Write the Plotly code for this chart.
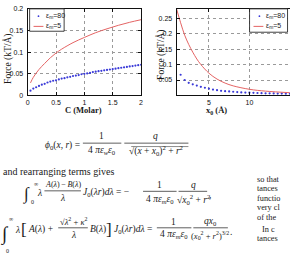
import plotly.graph_objects as go

W, H = 292, 260

# ---------------- data ----------------
c_molar = [0.05, 0.10, 0.15, 0.20, 0.25, 0.30, 0.35, 0.40, 0.45, 0.50,
           0.55, 0.60, 0.65, 0.70, 0.75, 0.80, 0.85, 0.90, 0.95, 1.00,
           1.05, 1.10, 1.15, 1.20, 1.25, 1.30, 1.35, 1.40, 1.45, 1.50,
           1.55, 1.60, 1.65, 1.70, 1.75, 1.80, 1.85, 1.90, 1.95, 2.00]
force_c_em80 = [0.011, 0.016, 0.019, 0.022, 0.025, 0.027, 0.030, 0.032, 0.034, 0.035,
                0.037, 0.039, 0.040, 0.042, 0.043, 0.045, 0.046, 0.047, 0.049, 0.050,
                0.051, 0.052, 0.054, 0.055, 0.056, 0.057, 0.058, 0.059, 0.060, 0.061,
                0.062, 0.063, 0.064, 0.065, 0.066, 0.067, 0.068, 0.069, 0.070, 0.071]
c_molar_red = [0.05, 0.1, 0.2, 0.3, 0.4, 0.5, 0.6, 0.8, 1.0, 1.2, 1.4, 1.6, 1.8, 2.0]
force_c_em5 = [0.029, 0.042, 0.060, 0.074, 0.087, 0.098, 0.107, 0.122, 0.134,
               0.145, 0.154, 0.162, 0.169, 0.175]

x0_blue = [1.5, 2.0, 2.5, 3.0, 3.5, 4.0, 4.5, 5.0, 5.5, 6.0, 6.5, 7.0, 7.5, 8.0,
           8.5, 9.0, 9.5, 10.0, 10.5, 11.0, 11.5, 12.0, 12.5, 13.0, 13.5, 14.0, 14.5, 15.0]
force_x0_em80 = [0.067, 0.050, 0.041, 0.036, 0.032, 0.028, 0.025, 0.022, 0.019, 0.017,
                 0.015, 0.014, 0.013, 0.012, 0.011, 0.010, 0.0095, 0.009, 0.0085, 0.008,
                 0.0075, 0.007, 0.0068, 0.0065, 0.0062, 0.006, 0.0058, 0.0055]
x0_red = [1.0, 1.5, 2.0, 2.5, 3.0, 3.5, 4.0, 5.0, 6.0, 7.0, 8.0, 10.0, 12.0, 15.0]
force_x0_em5 = [0.280, 0.235, 0.195, 0.165, 0.140, 0.118, 0.100, 0.072, 0.053,
                0.040, 0.031, 0.020, 0.014, 0.009]

legend_labels = ["ε<sub>m</sub>=80", "ε<sub>m</sub>=5"]
left_xticks = [0, 0.5, 1, 1.5, 2]
left_xtext = ["0", "0.5", "1", "1.5", "2"]
left_yticks = [0, 0.05, 0.1, 0.15, 0.2]
left_ytext = ["0", "0.05", "0.1", "0.15", "0.2"]
right_xticks = [5, 10, 15]
right_xtext = ["5", "10", "15"]
right_yticks = [0.05, 0.1, 0.15, 0.2, 0.25]
right_ytext = ["0.05", "0.1", "0.15", "0.2", "0.25"]
column_lines = ["so that", "tances", "functio", "very cl", "of the"]
column_lines2 = ["In c", "tances"]

BLUE = "#3a3ad8"
RED = "#e46464"
SERIF = "Liberation Serif"
SANS = "Liberation Sans"
BODY = 10
COL = 8.3
EQ = 9.5
THIN = "\u2009"


def px(x):
    return x / W


def py(y):
    return 1 - y / H


fig = go.Figure()
fig.add_trace(go.Scatter(x=c_molar, y=force_c_em80, mode="markers",
                         marker=dict(color=BLUE, size=2.2), xaxis="x", yaxis="y"))
fig.add_trace(go.Scatter(x=c_molar_red, y=force_c_em5, mode="lines", line_shape="spline",
                         line=dict(color=RED, width=1), xaxis="x", yaxis="y"))
fig.add_trace(go.Scatter(x=x0_blue, y=force_x0_em80, mode="markers",
                         marker=dict(color=BLUE, size=2.2), xaxis="x2", yaxis="y2"))
fig.add_trace(go.Scatter(x=x0_red, y=force_x0_em5, mode="lines", line_shape="spline",
                         line=dict(color=RED, width=1), xaxis="x2", yaxis="y2"))

axis_common = dict(showgrid=True, griddash="dot", gridcolor="#9a9a9a", gridwidth=1,
                   showline=True, linecolor="#111", linewidth=1, ticks="inside",
                   ticklen=3, tickcolor="#111", zeroline=False,
                   tickfont=dict(family=SANS, size=7, color="#111"))

fig.update_layout(
    width=W, height=H, margin=dict(l=0, r=0, t=0, b=0),
    paper_bgcolor="white", plot_bgcolor="white", showlegend=False,
    xaxis=dict(domain=[px(26), px(141)], range=[0, 2], tickvals=left_xticks,
               ticktext=left_xtext, anchor="y", mirror="ticks", **axis_common),
    yaxis=dict(domain=[py(94), py(5)], range=[0, 0.2], tickvals=left_yticks,
               ticktext=left_ytext, anchor="x", mirror="ticks", ticklabelstandoff=2,
               **axis_common),
    xaxis2=dict(domain=[px(177), 1], range=[1, 15.02], tickvals=right_xticks,
                ticktext=right_xtext, anchor="y2", mirror="ticks", **axis_common),
    yaxis2=dict(domain=[py(94), py(5)], range=[0, 0.28], tickvals=right_yticks,
                ticktext=right_ytext, anchor="x2", mirror=False, ticklabelstandoff=2,
                **axis_common),
)

shapes = []
annos = []


def txt(text, x, y, size=EQ, xanchor="center", family=SERIF, color="#1a1a1a",
        textangle=0, weight="normal"):
    annos.append(dict(text=text, x=px(x), y=py(y), xref="paper", yref="paper",
                      xanchor=xanchor, yanchor="middle", showarrow=False,
                      textangle=textangle, borderpad=0,
                      font=dict(family=family, size=size, color=color, weight=weight)))


def hline(x0, x1, y, width=0.7, color="#1a1a1a"):
    shapes.append(dict(type="line", xref="paper", yref="paper", x0=px(x0), x1=px(x1),
                       y0=py(y), y1=py(y), line=dict(color=color, width=width)))


# ---------------- manual legends ----------------
def legend_box(x0, x1, y0, y1, dot_x, line_x0, line_x1, text_x):
    shapes.append(dict(type="rect", xref="paper", yref="paper", x0=px(x0), x1=px(x1),
                       y0=py(y1), y1=py(y0), fillcolor="white",
                       line=dict(color="#111", width=0.8)))
    shapes.append(dict(type="circle", xref="paper", yref="paper",
                       x0=px(dot_x - 0.9), x1=px(dot_x + 0.9),
                       y0=py(12.5 + 0.9), y1=py(12.5 - 0.9),
                       fillcolor=BLUE, line=dict(width=0)))
    hline(line_x0, line_x1, 23, width=1, color=RED)
    txt(legend_labels[0], text_x, 12, size=7, xanchor="left", family=SANS)
    txt(legend_labels[1], text_x, 23, size=7, xanchor="left", family=SANS)


legend_box(28, 63, 5, 28, 37, 32, 42, 44)
legend_box(251, 289.5, 5, 29, 261, 255, 265, 267)

# ---------------- axis titles ----------------
txt("C (Molar)", 83, 109, size=8.5, weight="bold")
txt("x<sub>0</sub> (Å)", 217, 109.8, size=8.5, weight="bold")
txt("Force (kT/Å)", 6.5, 56, size=9.5, textangle=-90)
txt("Force (kT/Å)", 160.5, 52, size=9.5, textangle=-90)

# ---------------- equation 1 ----------------
txt("<i>ϕ</i><sub>0</sub>(<i>x</i>, <i>r</i>) =", 80, 145, xanchor="right")
txt("1", 101, 136)
hline(82, 121, 143)
txt("4 <i>πε</i><sub><i>w</i></sub><i>ε</i><sub>0</sub>", 101, 151)
txt("<i>q</i>", 156, 136)
hline(124, 189, 143)
txt("√(<i>x</i> + <i>x</i><sub>0</sub>)<sup>2</sup> + <i>r</i><sup>2</sup>", 156, 151)
hline(131, 189, 146.5, width=0.5)

txt("and rearranging terms gives", 0, 172, size=BODY, xanchor="left")

# ---------------- equation 2 ----------------
txt("∫", 25, 195, size=17)
txt("∞", 34, 185, size=6)
txt("0", 31, 203, size=6)
txt("<i>λ</i>", 38.5, 194)
txt("<i>A</i>(<i>λ</i>)" + THIN + "−" + THIN + "<i>B</i>(<i>λ</i>)", 61.5, 186, size=8)
hline(43, 80, 192)
txt("<i>λ</i>", 61.5, 199)
txt("<i>J</i><sub>0</sub>(<i>λr</i>)<i>dλ</i> = −", 81.5, 194, xanchor="left")
txt("1", 160, 186)
hline(143, 177, 192.5)
txt("4 <i>πε</i><sub><i>m</i></sub><i>ε</i><sub>0</sub>", 160, 201)
txt("<i>q</i>", 194, 186)
hline(179, 208, 192.5)
txt("√<i>x</i><sub>0</sub><sup>2</sup> + <i>r</i><sup>2</sup>", 194, 201)
txt(",", 211, 196)

# ---------------- equation 3 ----------------
txt("∫", 3, 237, size=19)
txt("∞", 9, 221, size=6)
txt("0", 6, 254, size=6)
txt("<i>λ</i>", 16, 232)
txt("[", 22, 232, size=17)
txt("<i>A</i>(<i>λ</i>) +", 25, 232, xanchor="left")
txt("√<i>λ</i><sup>2</sup> + <i>κ</i><sup>2</sup>", 72, 224, size=8.5)
hline(57, 87, 230)
txt("<i>λ</i>", 72, 237)
txt("<i>B</i>(<i>λ</i>)", 88, 232, xanchor="left")
txt("]", 108, 232, size=17)
txt("<i>J</i><sub>0</sub>(<i>λr</i>)<i>dλ</i> =", 113, 232, xanchor="left")
txt("1", 174, 224)
hline(157, 192, 230)
txt("4 <i>πε</i><sub><i>m</i></sub><i>ε</i><sub>0</sub>", 174, 237)
txt("<i>qx</i><sub>0</sub>", 211, 224)
hline(194, 229, 230)
txt("(<i>x</i><sub>0</sub><sup>2</sup> + <i>r</i><sup>2</sup>)<sup>3/2</sup>", 211, 238, size=8.5)
txt(".", 232, 234)

# ---------------- right text column ----------------
col_y = [180.5, 190.1, 199.7, 209.3, 218.9]
for line, yy in zip(column_lines, col_y):
    txt(line, 258, yy, size=COL, xanchor="left")
txt(column_lines2[0], 263, 231.5, size=COL, xanchor="left")
txt(column_lines2[1], 258, 241.1, size=COL, xanchor="left")

fig.update_layout(shapes=shapes, annotations=annos)
fig.write_html("out.html")
